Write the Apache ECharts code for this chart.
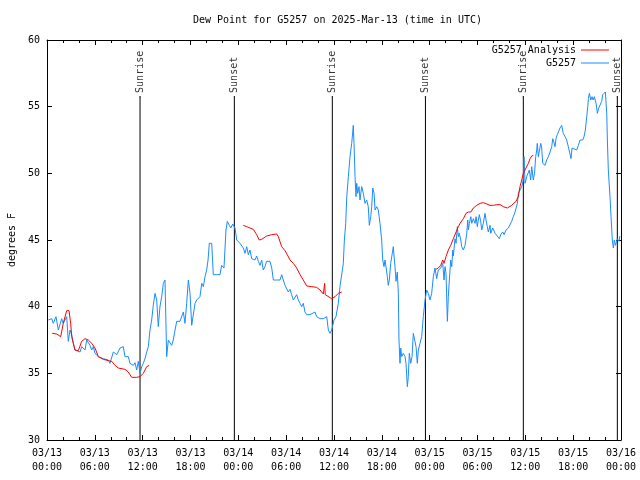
<!DOCTYPE html>
<html>
<head>
<meta charset="utf-8">
<script src="https://cdn.jsdelivr.net/npm/echarts@6/dist/echarts.min.js"></script>
<style>html,body{margin:0;padding:0;background:#fff}#c{width:640px;height:480px}</style>
</head>
<body>
<div id="c"></div>
<script>
// Hours since 2025-03-13 00:00 UTC
const g5257Hours = [0.16,0.59,0.79,1.13,1.42,1.84,2.04,2.47,2.67,2.89,3.1,3.3,3.51,3.72,4.14,4.35,4.77,4.98,5.39,5.61,5.81,6.02,6.44,6.65,7.06,7.69,7.9,8.32,8.74,9.16,9.57,9.78,10.2,10.41,10.83,11.04,11.25,11.45,11.67,11.88,12.08,12.29,12.51,12.71,12.92,13.13,13.33,13.55,13.76,13.96,14.17,14.39,14.59,14.8,15.01,15.22,15.43,15.64,15.84,16.06,16.27,16.68,16.9,17.1,17.31,17.52,17.73,17.94,18.15,18.36,18.57,18.78,19.19,19.41,19.61,19.82,20.03,20.2,20.36,20.66,20.86,21.28,21.7,21.91,22.2,22.45,22.62,22.87,23.05,23.3,23.46,23.58,23.8,24.0,24.21,24.42,24.62,24.84,25.05,25.25,25.46,25.68,25.88,26.09,26.3,26.51,26.72,26.93,27.13,27.34,27.55,27.76,27.97,28.19,28.39,28.81,29.23,29.44,29.64,29.86,30.07,30.27,30.48,30.69,30.9,31.11,31.32,31.52,31.74,31.95,32.15,32.36,32.58,32.99,33.2,33.62,33.83,34.25,34.66,35.09,35.29,35.5,35.71,35.88,36.0,36.25,36.54,36.75,36.97,37.17,37.3,37.47,37.6,37.8,38.01,38.22,38.35,38.42,38.51,38.64,38.76,38.85,38.97,39.14,39.26,39.48,39.68,39.89,40.1,40.3,40.43,40.61,40.73,40.86,41.03,41.15,41.36,41.56,41.77,41.98,42.11,42.27,42.4,42.52,42.69,42.81,42.94,43.11,43.31,43.44,43.53,43.65,43.78,43.94,44.07,44.15,44.28,44.37,44.49,44.69,44.91,45.03,45.2,45.32,45.45,45.62,45.79,45.95,46.17,46.29,46.45,46.58,46.79,47.0,47.2,47.42,47.63,47.83,48.04,48.25,48.46,48.67,48.88,49.08,49.39,49.64,49.8,49.93,50.05,50.22,50.34,50.47,50.64,50.77,50.9,50.97,51.18,51.31,51.47,51.6,51.72,51.9,52.02,52.23,52.44,52.65,52.78,52.86,52.98,53.16,53.28,53.48,53.69,53.82,53.98,54.1,54.23,54.4,54.53,54.73,54.94,55.07,55.23,55.36,55.57,55.66,55.91,56.2,56.45,56.74,56.91,57.16,57.33,57.58,57.87,58.08,58.29,58.49,58.71,58.92,59.0,59.12,59.33,59.55,59.75,59.84,59.96,60.17,60.33,60.5,60.67,60.8,61.0,61.15,61.3,61.43,61.5,61.63,61.78,61.93,62.05,62.18,62.47,62.68,62.89,63.1,63.31,63.44,63.6,63.72,63.85,64.01,64.14,64.35,64.56,64.76,64.98,65.19,65.39,65.6,65.73,65.86,66.11,66.45,66.65,66.86,67.2,67.36,67.53,67.7,67.83,67.91,68.03,68.21,68.37,68.5,68.66,68.87,69.04,69.21,69.37,69.58,69.71,69.87,70.04,70.21,70.29,70.41,70.62,70.75,70.91,71.04,71.16,71.31,71.54,71.74,71.87];
const g5257Dew = [39.0,39.1,38.75,39.25,38.25,39.1,38.75,39.25,37.4,38.25,37.9,37.25,36.75,36.9,36.6,37.0,36.75,37.5,37.1,36.75,37.0,36.5,36.25,36.1,36.1,36.0,35.75,36.6,36.4,36.9,37.0,36.25,36.25,35.75,35.6,35.8,35.25,35.9,35.0,35.5,35.75,36.1,36.6,37.0,38.25,39.0,40.1,41.0,40.5,38.5,40.0,40.75,41.75,42.0,36.25,37.5,37.5,37.1,37.5,38.25,38.9,38.9,38.9,39.6,38.75,40.25,42.0,41.0,38.6,38.6,40.25,40.5,40.75,41.75,41.5,42.25,42.75,43.5,44.75,44.75,42.4,42.4,42.4,43.1,42.9,45.75,46.4,46.1,45.9,46.2,46.1,45.9,45.0,44.9,44.75,44.6,44.4,44.0,44.5,43.9,44.25,43.6,43.6,43.5,43.8,43.4,43.1,43.5,42.75,43.0,43.4,43.3,43.4,42.9,42.0,42.0,42.0,42.4,42.0,41.6,41.5,41.1,41.3,40.9,40.5,40.6,40.9,40.5,40.25,40.0,40.25,39.6,39.4,39.4,39.4,39.6,39.25,39.1,39.1,39.25,38.25,38.0,38.25,38.1,39.0,39.25,40.25,41.5,41.6,43.25,45.0,46.25,48.25,49.75,51.25,52.25,53.1,53.6,52.25,49.75,48.25,49.25,48.5,49.0,48.0,49.0,48.5,47.75,48.0,47.5,46.1,46.75,47.5,48.9,48.5,47.25,47.5,47.25,46.25,45.0,43.5,43.0,43.5,43.0,42.25,41.6,42.0,43.25,44.0,44.5,43.8,43.0,41.9,42.6,41.0,37.5,35.75,36.9,36.25,36.5,36.25,35.75,34.0,34.75,36.5,35.75,36.25,38.0,38.0,37.0,35.75,36.75,37.25,37.75,39.25,40.5,41.25,41.0,40.5,41.0,42.25,42.9,42.1,42.75,42.9,43.25,42.0,43.0,42.5,38.9,40.75,42.0,43.5,43.0,44.25,43.8,45.1,44.75,46.0,45.25,45.5,45.0,44.5,44.25,44.6,45.5,46.5,45.75,46.25,46.75,46.25,46.6,46.25,46.75,46.0,46.5,46.9,46.4,45.75,46.25,47.0,46.5,46.0,45.6,46.1,45.5,45.9,45.5,45.4,45.1,45.4,45.6,45.4,45.75,45.9,46.0,46.4,46.75,47.1,47.25,47.75,48.5,48.6,49.0,49.5,51.25,49.25,49.75,49.9,50.25,49.5,50.5,49.5,50.0,51.25,51.75,52.25,51.25,51.75,52.25,51.9,50.75,50.6,51.0,51.25,51.6,52.0,52.6,52.3,52.0,52.6,52.9,53.0,53.4,53.6,53.0,52.75,52.5,52.0,51.9,51.1,51.9,51.75,51.75,52.1,52.5,52.5,52.75,53.25,54.25,55.0,55.6,56.0,55.5,55.75,55.5,55.75,55.25,54.5,54.9,54.75,55.4,55.9,56.0,56.1,54.5,52.5,50.25,48.25,46.75,45.0,44.4,45.0,44.6,45.1,44.9,45.3];

// Analysis series; null marks a gap between segments
const analysisHours = [0.66,1.22,1.72,2.04,2.47,2.76,2.97,3.1,3.3,3.51,3.93,4.35,4.77,5.18,5.61,6.02,6.44,7.06,7.69,8.12,8.53,8.94,9.78,10.2,10.62,11.25,11.67,12.08,12.51,12.83,
  18.0,
  24.62,25.05,25.46,25.88,26.3,26.63,26.93,27.55,28.19,28.81,29.02,29.44,29.86,30.14,30.48,30.9,31.32,31.74,32.15,32.58,33.2,33.83,34.25,34.47,34.66,34.77,34.83,34.9,35.09,35.71,36.13,36.54,36.97,
  42.0,
  48.8,49.08,49.39,49.64,49.8,50.05,50.34,50.64,50.97,51.31,51.6,51.81,52.23,52.56,52.86,53.16,53.48,53.9,54.32,54.73,55.16,55.57,55.99,56.41,56.83,57.24,57.74,58.29,58.83,59.12,59.33,59.55,59.75,60.08,60.38,60.59,60.8,61.0];
const analysisDew = [38.0,37.95,37.75,38.75,39.7,39.7,38.75,37.75,37.25,36.75,36.7,37.4,37.6,37.5,37.25,36.9,36.25,36.05,35.95,35.9,35.6,35.4,35.3,35.1,34.7,34.7,34.75,35.0,35.5,35.6,
  null,
  46.1,46.0,45.9,45.8,45.4,45.0,45.05,45.3,45.4,45.45,45.25,44.5,44.2,43.9,43.5,43.25,42.9,42.4,42.0,41.55,41.5,41.45,41.25,41.1,40.95,41.0,41.75,40.9,40.75,40.6,40.75,41.0,41.1,
  null,
  42.8,42.9,43.1,43.5,43.25,43.75,44.25,44.6,45.1,45.6,46.0,46.25,46.6,47.0,47.1,47.1,47.4,47.6,47.75,47.8,47.7,47.6,47.6,47.65,47.65,47.5,47.4,47.6,47.9,48.25,49.0,49.5,50.0,50.4,50.75,51.1,51.3,51.35];

const sunEventHours = [11.67, 23.5, 35.79, 47.47, 59.75, 71.54];
const sunEventNames = ['Sunrise', 'Sunset', 'Sunrise', 'Sunset', 'Sunrise', 'Sunset'];
const sunLineTop = 55.75;
const yMin = 30, yMax = 60, yStep = 5;
const xMin = 0, xMax = 72, xStep = 6;
const dayNames = ['03/13', '03/14', '03/15', '03/16'];

const FONT = 'DejaVu Sans Mono';
const blue = '#1a8cff', red = '#ff0000';

const blueData = g5257Hours.map((h, i) => [h, g5257Dew[i]]);
const redData = analysisHours.map((h, i) => [h, analysisDew[i] === null ? '-' : analysisDew[i]]);

function fmtX(v) {
  const d = Math.floor(v / 24 + 1e-6);
  const hh = Math.round(v - d * 24);
  return dayNames[d] + '\n' + (hh < 10 ? '0' : '') + hh + ':00';
}

const series = [];
sunEventHours.forEach((h, i) => {
  series.push({
    type: 'line', silent: true, symbol: 'none', animation: false,
    data: [[h, yMin], [h, sunLineTop]],
    lineStyle: { color: '#000', width: 1 }, z: 1
  });
});
series.push({
  type: 'scatter', silent: true, symbol: 'circle', symbolSize: 1.5,
  itemStyle: { color: '#000' },
  data: sunEventHours.map((h, i) => ({ value: [h, sunLineTop], name: sunEventNames[i] })),
  label: {
    show: true, formatter: '{b}', position: 'top', distance: 3, rotate: 90,
    align: 'left', verticalAlign: 'middle',
    fontFamily: FONT, fontSize: 10, color: '#000'
  }, z: 1
});
series.push({
  name: 'G5257 Analysis', type: 'line', data: redData, symbol: 'none', connectNulls: false,
  lineStyle: { color: red, width: 1 }, itemStyle: { color: red }, z: 3
});
series.push({
  name: 'G5257', type: 'line', data: blueData, symbol: 'none',
  lineStyle: { color: blue, width: 1 }, itemStyle: { color: blue }, z: 2
});

const axisLine = { show: true, onZero: false, lineStyle: { color: '#000', width: 1 } };

const chart = echarts.init(document.getElementById('c'), null, { renderer: 'canvas' });
chart.setOption({
  animation: false,
  backgroundColor: '#fff',
  title: {
    text: 'Dew Point for G5257 on 2025-Mar-13 (time in UTC)',
    left: 188, top: 10,
    textStyle: { fontFamily: FONT, fontSize: 10, fontWeight: 'normal', color: '#000' }
  },
  legend: {
    data: ['G5257 Analysis', 'G5257'],
    orient: 'vertical', right: 26, top: 40, align: 'right',
    icon: 'rect', itemWidth: 28, itemHeight: 1, itemGap: 3,
    textStyle: { fontFamily: FONT, fontSize: 10, color: '#000', padding: [0, 0, 0, 0] },
    selectedMode: false
  },
  grid: { left: 47, right: 19, top: 40, bottom: 40, containLabel: false, outerBoundsMode: 'none' },
  xAxis: [
    {
      type: 'value', position: 'bottom', min: xMin, max: xMax, interval: xStep,
      axisLine: axisLine,
      axisTick: { inside: true, length: 5, lineStyle: { color: '#000' } },
      minorTick: { show: true, splitNumber: 3, length: 3, lineStyle: { color: '#000' } },
      splitLine: { show: false },
      axisLabel: { formatter: fmtX, fontFamily: FONT, fontSize: 10, color: '#000', lineHeight: 14, margin: 6 }
    },
    {
      type: 'value', position: 'top', min: xMin, max: xMax, interval: xStep,
      axisLine: axisLine,
      axisTick: { inside: true, length: 5, lineStyle: { color: '#000' } },
      minorTick: { show: true, splitNumber: 3, length: 3, lineStyle: { color: '#000' } },
      splitLine: { show: false }, axisLabel: { show: false }
    }
  ],
  yAxis: [
    {
      type: 'value', position: 'left', min: yMin, max: yMax, interval: yStep,
      name: 'degrees F', nameLocation: 'middle', nameGap: 30, nameRotate: 90,
      nameTextStyle: { fontFamily: FONT, fontSize: 10, color: '#000' },
      axisLine: axisLine,
      axisTick: { inside: true, length: 5, lineStyle: { color: '#000' } },
      splitLine: { show: false },
      axisLabel: { fontFamily: FONT, fontSize: 10, color: '#000', margin: 7 }
    },
    {
      type: 'value', position: 'right', min: yMin, max: yMax, interval: yStep,
      axisLine: axisLine,
      axisTick: { inside: true, length: 5, lineStyle: { color: '#000' } },
      splitLine: { show: false }, axisLabel: { show: false }
    }
  ],
  series: series
});
</script>
</body>
</html>
